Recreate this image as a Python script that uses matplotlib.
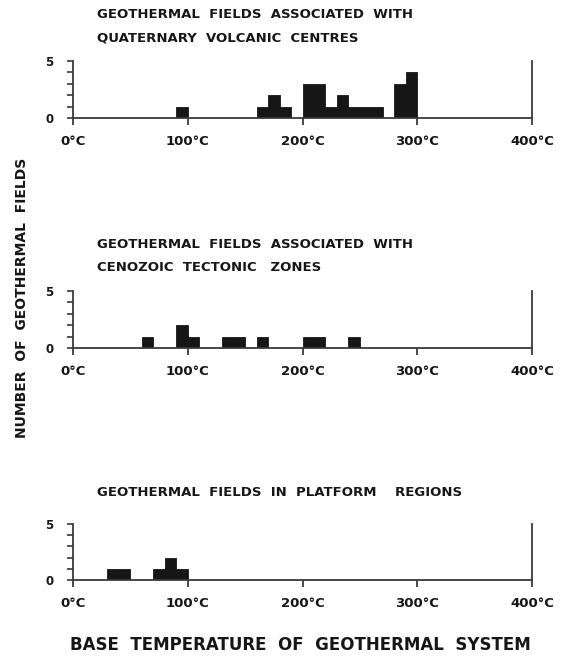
import numpy as np
import matplotlib.pyplot as plt

# 10 degC bins: left edge of each bin and number of fields in it
volc_bins = [90, 160, 170, 180, 200, 210, 220, 230, 240, 250, 260, 280, 290]
volc_counts = [1, 1, 2, 1, 3, 3, 1, 2, 1, 1, 1, 3, 4]

tect_bins = [60, 90, 100, 130, 140, 160, 200, 210, 240]
tect_counts = [1, 2, 1, 1, 1, 1, 1, 1, 1]

plat_bins = [30, 40, 70, 80, 90]
plat_counts = [1, 1, 1, 2, 1]

titles = [
    ["GEOTHERMAL  FIELDS  ASSOCIATED  WITH", "QUATERNARY  VOLCANIC  CENTRES"],
    ["GEOTHERMAL  FIELDS  ASSOCIATED  WITH", "CENOZOIC  TECTONIC   ZONES"],
    ["GEOTHERMAL  FIELDS  IN  PLATFORM    REGIONS"],
]
temp_ticks = [0, 100, 200, 300, 400]
temp_labels = ["0°C", "100°C", "200°C", "300°C", "400°C"]
bin_width = 10

W, H = 561, 660
fig = plt.figure(figsize=(W / 100, H / 100), dpi=100)
plt.rcParams['font.family'] = 'DejaVu Sans'

ink = '#161616'
axis_col = '#3a3a3a'

# axes placed by pixel: (y of 0 count, y of 5 count), title line y's
panels = [
    (volc_bins, volc_counts, 118, 61, [15, 38]),
    (tect_bins, tect_counts, 348, 291, [245, 268]),
    (plat_bins, plat_counts, 580, 524, [492]),
]
x0, x1 = 73, 532

for (bins, counts, y0, y5, ty), lines in zip(panels, titles):
    ax = fig.add_axes([x0 / W, 1 - y0 / H, (x1 - x0) / W, (y0 - y5) / H])
    ax.bar(bins, counts, width=bin_width, align='edge', color=ink,
           edgecolor=ink, linewidth=0.6)
    ax.set_xlim(0, 400)
    ax.set_ylim(0, 5)
    ax.patch.set_alpha(0)
    for s in ['left', 'bottom', 'right']:
        ax.spines[s].set_color(axis_col)
        ax.spines[s].set_linewidth(1.3)
    ax.spines['top'].set_visible(False)
    ax.set_xticks(temp_ticks)
    ax.set_xticklabels(temp_labels, fontsize=9.5, fontweight='bold', color=ink)
    ax.tick_params(axis='x', length=5, width=1.3, color=axis_col, pad=7)
    ax.set_yticks([0, 5])
    ax.set_yticks([1, 2, 3, 4], minor=True)
    ax.set_yticklabels(['0', '5'], fontsize=8.5, fontweight='bold', color=ink)
    ax.tick_params(axis='y', which='both', length=4, width=1.2, color=axis_col, pad=10)
    for line, y in zip(lines, ty):
        fig.text(97 / W, 1 - y / H, line, ha='left', va='center',
                 fontsize=9.5, fontweight='bold', color=ink)

fig.text(22 / W, 1 - 298 / H, "NUMBER  OF  GEOTHERMAL  FIELDS", rotation=90,
         ha='center', va='center', fontsize=10, fontweight='bold', color=ink)
fig.text(300 / W, 1 - 645 / H, "BASE  TEMPERATURE  OF  GEOTHERMAL  SYSTEM",
         ha='center', va='center', fontsize=12, fontweight='bold', color=ink)

fig.savefig('out.png', dpi=100, facecolor='white')
